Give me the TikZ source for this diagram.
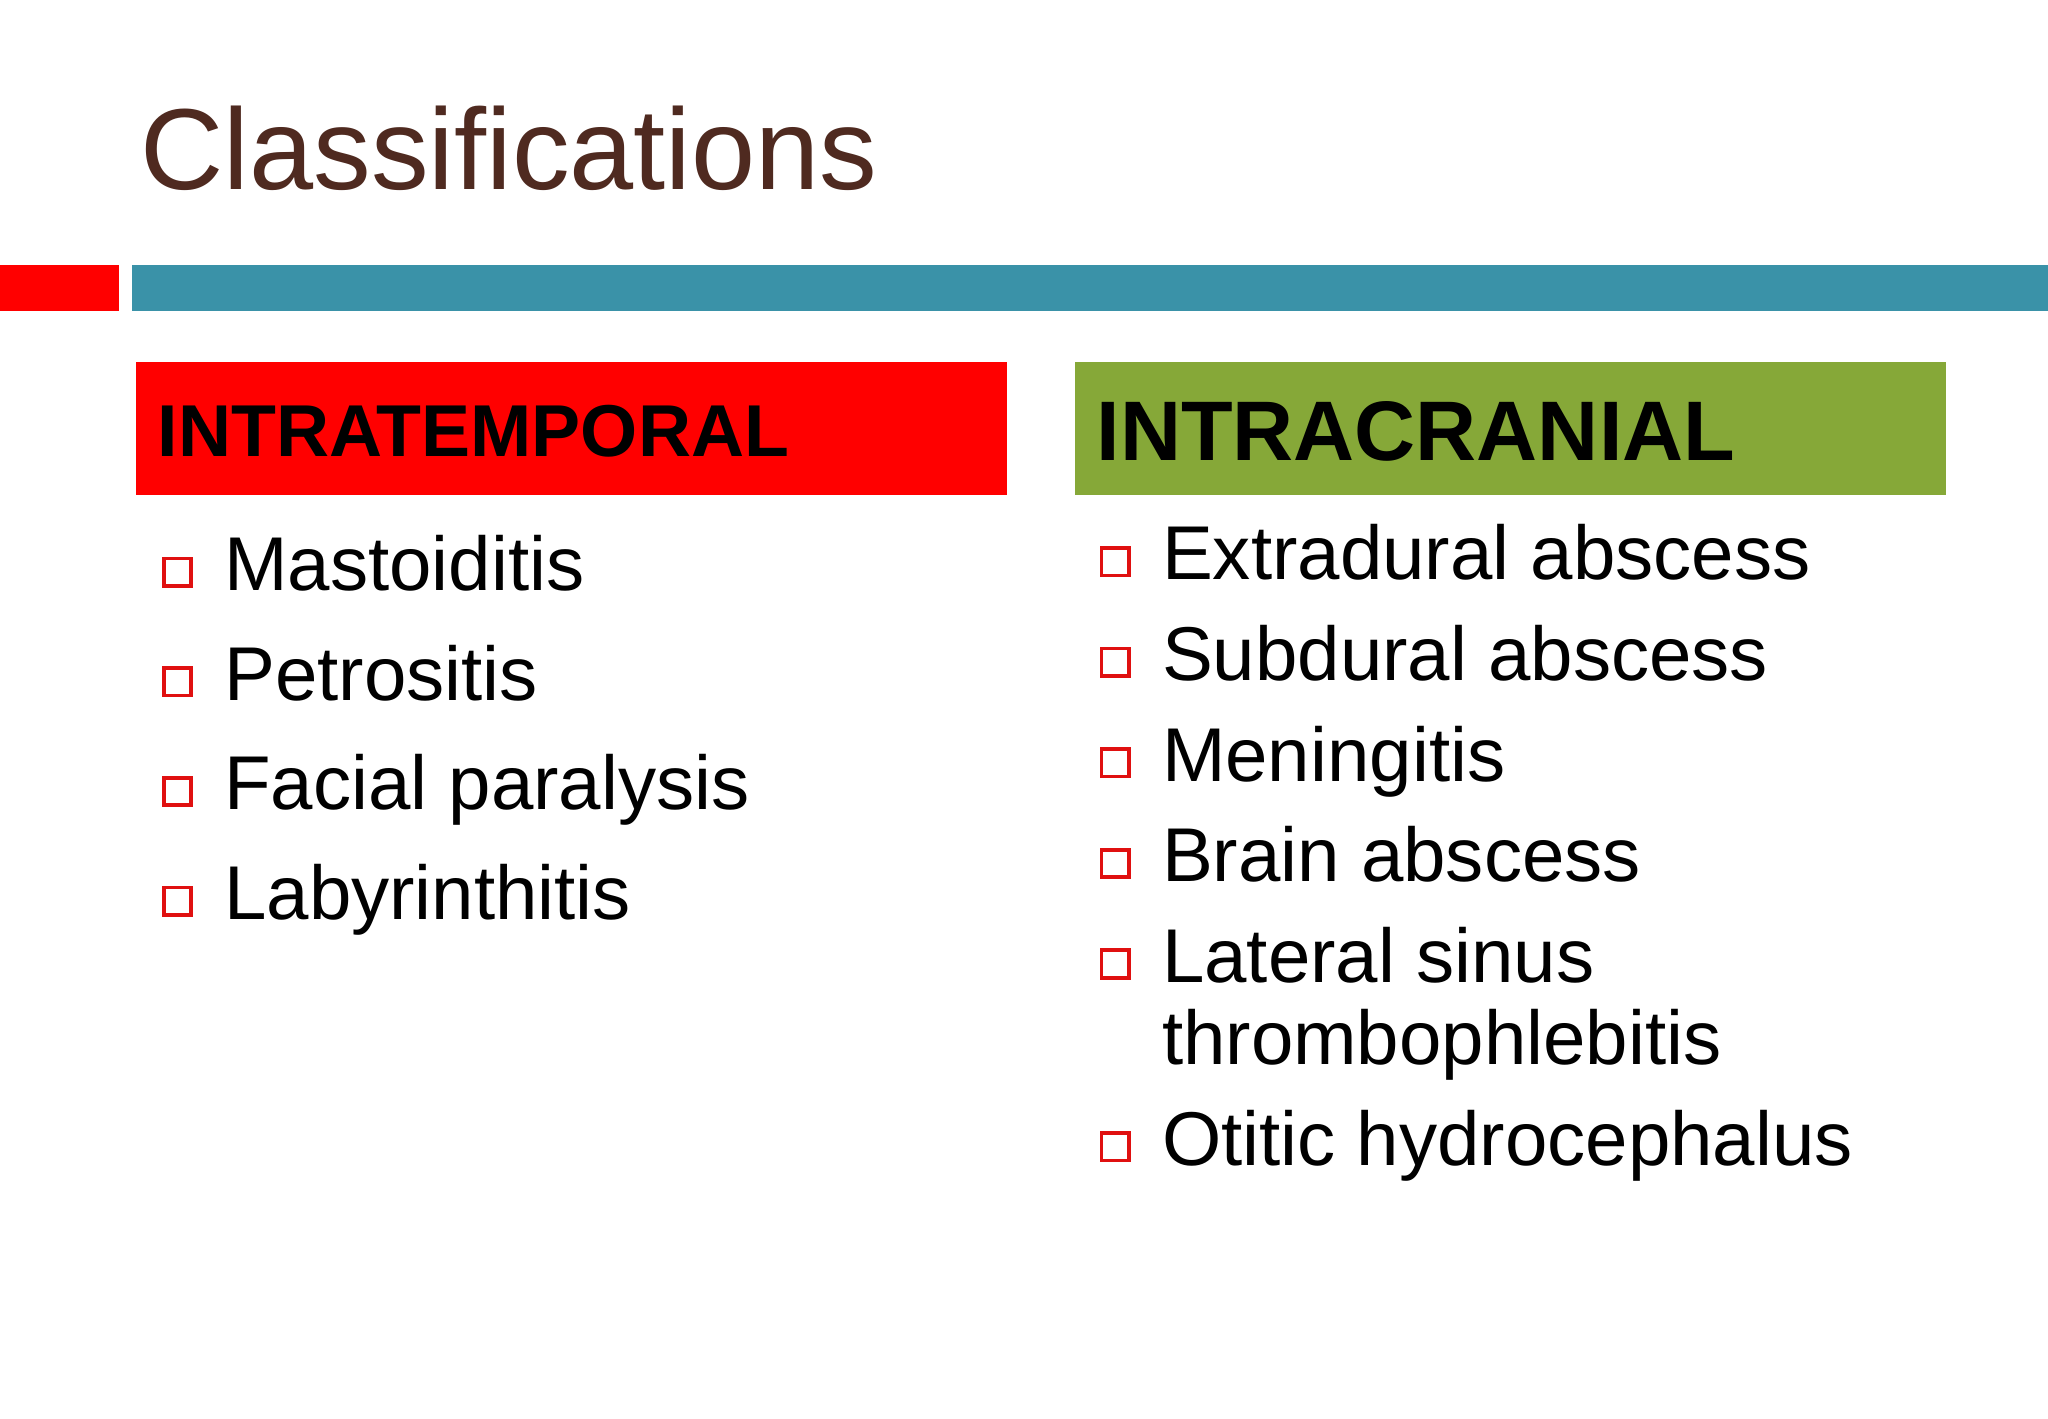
\documentclass[tikz,border=0pt]{standalone}
\usepackage{fontspec}
\setmainfont{Liberation Sans}
\definecolor{teal1}{HTML}{3A92A8}
\definecolor{red1}{HTML}{FF0000}
\definecolor{green1}{HTML}{86A838}
\definecolor{brown1}{HTML}{4F2A20}
\definecolor{bulletred}{HTML}{E01010}
\begin{document}
\begin{tikzpicture}[x=0.01cm,y=-0.01cm,
  item/.style={anchor=base west,inner sep=0pt,font=\fontsize{16.6}{20}\selectfont},
  sq/.style={draw=bulletred,line width=0.8pt,minimum size=0.21cm,inner sep=0pt,anchor=south west},
  hdr/.style={anchor=west,inner sep=0pt,font=\bfseries}]
\useasboundingbox (0,0) rectangle (1568,1086);
\fill[white] (0,0) rectangle (1568,1086);
\node[anchor=base west,inner sep=0pt,text=brown1,font=\fontsize{25.1}{30}\selectfont] (title) at (107,145) {Classifications};
\fill[red1] (0,203) rectangle (91,238);
\fill[teal1] (101,203) rectangle (1568,238);
\fill[red1] (104,277) rectangle (771,379);
\fill[green1] (823,277) rectangle (1490,379);
\node[hdr,font=\fontsize{16}{20}\selectfont\bfseries] (h1) at (120,330) {INTRATEMPORAL};
\node[hdr,font=\fontsize{18.4}{22}\selectfont\bfseries] (h2) at (839,330) {INTRACRANIAL};
% left list
\foreach \t/\y [count=\i] in {Mastoiditis/452,Petrositis/536,Facial paralysis/620,Labyrinthitis/704}{
  \node[sq] (ls\i) at (124,\y-2) {};
  \node[item] (lt\i) at (171,\y) {\t};
}
% right list
\foreach \t/\y [count=\i] in {Extradural abscess/444,Subdural abscess/521,Meningitis/598,Brain abscess/675,Lateral sinus/752,Otitic hydrocephalus/892}{
  \node[sq] (rs\i) at (842,\y-2) {};
  \node[item] (rt\i) at (889,\y) {\t};
}
\node[item] (rt5b) at (889,815) {thrombophlebitis};
\end{tikzpicture}
\end{document}
